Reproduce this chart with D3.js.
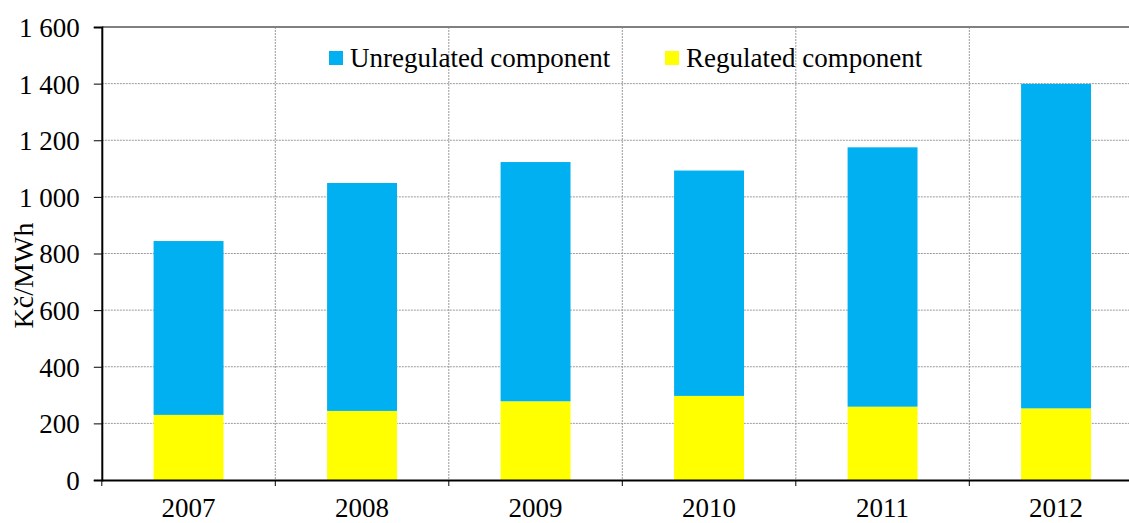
<!DOCTYPE html>
<html>
<head>
<meta charset="utf-8">
<script src="https://cdn.jsdelivr.net/npm/d3@7"></script>
<style>
html,body{margin:0;padding:0;background:#fff;overflow:hidden;}
svg{display:block;}
text{font-family:"Liberation Serif","Times New Roman",serif;fill:#000;}
</style>
</head>
<body>
<svg id="chart" width="1129" height="523"></svg>
<script>
const years = ["2007","2008","2009","2010","2011","2012"];
const regulated = [230, 244, 278, 297, 259, 253];
const unregulated = [614, 805, 845, 796, 916, 1146];
const yTicks = [0,200,400,600,800,1000,1200,1400,1600];
const yTickLabels = ["0","200","400","600","800","1 000","1 200","1 400","1 600"];
const seriesNames = ["Unregulated component","Regulated component"];
const seriesColors = ["#00B0F0","#FFFF00"];
const yTitle = "Kč/MWh";

(function(){
const svg = d3.select("#chart");
const pL = 101.8, pR = 1142.8, pT = 27, pB = 480;
const FONT = '"Liberation Serif","Times New Roman",serif';

const x = d3.scaleBand().domain(years).range([pL, pR]).padding(0);
const y = d3.scaleLinear().domain([0,1600]).range([pB, pT]);

const rows = years.map((yr,i)=>({year:yr, regulated:regulated[i], unregulated:unregulated[i]}));
const layers = d3.stack().keys(["regulated","unregulated"])(rows);

// gridlines
const grid = svg.append("g");
grid.selectAll("line.h").data(yTicks.filter(v=>v>0 && v<1600)).enter().append("line")
  .attr("x1", pL).attr("x2", pR).attr("y1", d=>y(d)).attr("y2", d=>y(d))
  .attr("stroke","#9a9a9a").attr("stroke-width",1).attr("stroke-dasharray","2,1");
grid.selectAll("line.v").data(years.slice(1)).enter().append("line")
  .attr("x1", d=>x(d)).attr("x2", d=>x(d)).attr("y1", pT).attr("y2", pB)
  .attr("stroke","#9a9a9a").attr("stroke-width",1).attr("stroke-dasharray","2,1");

// top border
svg.append("line").attr("x1",pL).attr("x2",pR).attr("y1",pT).attr("y2",pT)
  .attr("stroke","#808080").attr("stroke-width",2);

// bars
const bw = x.bandwidth()*0.403;
const off = (x.bandwidth()-bw)/2;
const colorOf = {regulated: seriesColors[1], unregulated: seriesColors[0]};
layers.forEach(layer=>{
  svg.append("g").selectAll("rect").data(layer).enter().append("rect")
    .attr("x", d=>x(d.data.year)+off)
    .attr("width", bw)
    .attr("y", d=>y(d[1]))
    .attr("height", d=>y(d[0])-y(d[1]))
    .attr("fill", colorOf[layer.key]);
});

// y axis
const yAxis = d3.axisLeft(y).tickValues(yTicks).tickSize(8)
  .tickFormat((d,i)=>yTickLabels[i]);
const gy = svg.append("g").attr("transform",`translate(${pL},0)`).call(yAxis)
  .attr("font-family", FONT).attr("font-size", 27);
gy.select(".domain").attr("stroke","#000").attr("stroke-width",2);
gy.selectAll(".tick line").attr("stroke","#000").attr("stroke-width",1);
gy.selectAll(".tick text").attr("x",-22).attr("dy","0.35em").attr("fill","#000");

// x axis
const gx = svg.append("g").attr("transform",`translate(0,${pB})`)
  .call(d3.axisBottom(x).tickSize(0).tickSizeOuter(0))
  .attr("font-family", FONT).attr("font-size", 27);
gx.select(".domain").attr("stroke","#000").attr("stroke-width",2);
gx.selectAll(".tick text").attr("y",37).attr("dy",0).attr("fill","#000");
// boundary ticks
svg.append("g").selectAll("line").data(years).enter().append("line")
  .attr("x1",d=>x(d)).attr("x2",d=>x(d)).attr("y1",pB).attr("y2",pB+6)
  .attr("stroke","#000").attr("stroke-width",1);

// y title
svg.append("text").attr("transform","translate(33,275.5) rotate(-90)")
  .attr("text-anchor","middle").style("font-family",FONT).style("font-size","28px").text(yTitle);

// legend
const legX = [329, 665];
const leg = svg.append("g");
seriesNames.forEach((n,i)=>{
  leg.append("rect").attr("x",legX[i]).attr("y",51).attr("width",14).attr("height",14).attr("fill",seriesColors[i]);
  leg.append("text").attr("x",legX[i]+21).attr("y",66.5)
    .style("font-family",FONT).style("font-size","27px").text(n);
});
})();
</script>
</body>
</html>
